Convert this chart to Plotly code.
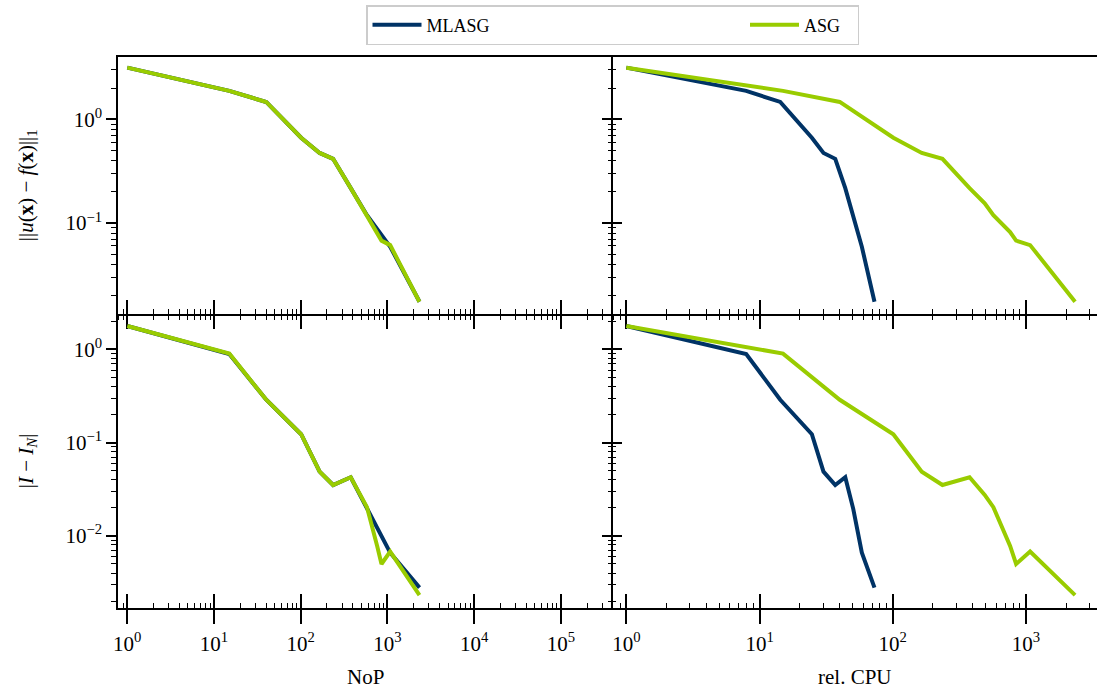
import plotly.graph_objects as go

# ---------------- data ----------------
nop_asg = [1, 15, 40, 101, 165, 236, 377, 480, 580, 760, 853, 1074, 2335]
cpu_asg = [1, 15, 40, 101, 165, 236, 377, 490, 569, 760, 843, 1074, 2335]
err_asg = [3.15, 1.88, 1.47, 0.664, 0.474, 0.416, 0.217, 0.155, 0.119, 0.0818, 0.0676, 0.0612, 0.0174]
int_asg = [1.78, 0.90, 0.288, 0.123, 0.0488, 0.0351, 0.0425, 0.0275, 0.0203, 0.0078, 0.0050, 0.0068, 0.00232]

nop_mlasg = [1, 15, 40, 101, 165, 236, 377, 480, 580, 1074, 2340]
cpu_mlasg = [1, 7.94, 14.3, 24.7, 30.2, 37.0, 44.0, 47.3, 50.5, 58.6, 72.9]
err_mlasg = [3.15, 1.88, 1.47, 0.664, 0.474, 0.416, 0.217, 0.155, 0.119, 0.059, 0.0174]
int_mlasg = [1.78, 0.89, 0.288, 0.123, 0.0488, 0.0351, 0.0425, 0.0275, 0.0195, 0.0066, 0.00279]

series_names = ["MLASG", "ASG"]
series_colors = ["#003366", "#99CC00"]

x_left_ticks = [1, 10, 100, 1000, 10000, 100000]
x_left_labels = ["10<sup>0</sup>", "10<sup>1</sup>", "10<sup>2</sup>", "10<sup>3</sup>", "10<sup>4</sup>", "10<sup>5</sup>"]
x_right_ticks = [1, 10, 100, 1000]
x_right_labels = ["10<sup>0</sup>", "10<sup>1</sup>", "10<sup>2</sup>", "10<sup>3</sup>"]
y_top_ticks = [0.1, 1]
y_top_labels = ["10<sup>\u22121</sup>", "10<sup>0</sup>"]
y_bot_ticks = [0.01, 0.1, 1]
y_bot_labels = ["10<sup>\u22122</sup>", "10<sup>\u22121</sup>", "10<sup>0</sup>"]
minor_vals = [m * 10.0 ** k for k in range(-4, 6) for m in range(2, 10)]

x_titles = ["NoP", "rel. CPU"]
y_titles = ["||<i>u</i>(<b>x</b>) \u2212 <i>f</i>(<b>x</b>)||<sub>1</sub>", "|<i>I</i> \u2212 <i>I<sub>N</sub></i>|"]

# ---------------- layout geometry ----------------
W, H = 1097, 695
FONT = "Liberation Serif, DejaVu Serif, serif"
xl_dom = [118 / W, 613 / W]
xr_dom = [613 / W, 1.0]
yt_dom = [1 - 313.5 / H, 1 - 57 / H]
yb_dom = [1 - 608.3 / H, 1 - 313.5 / H]
xl_rng = [-0.107, 5.60]
xr_rng = [-0.10, 3.533]
yt_rng = [-1.873, 0.601]
yb_rng = [-2.776, 0.384]

fig = go.Figure()

panels = [
    ("x", "y", [nop_mlasg, nop_asg], [err_mlasg, err_asg]),
    ("x2", "y2", [cpu_mlasg, cpu_asg], [err_mlasg, err_asg]),
    ("x3", "y3", [nop_mlasg, nop_asg], [int_mlasg, int_asg]),
    ("x4", "y4", [cpu_mlasg, cpu_asg], [int_mlasg, int_asg]),
]
for pi, (xa, ya, xs, ys) in enumerate(panels):
    for si in range(2):
        fig.add_trace(go.Scatter(
            x=xs[si], y=ys[si], mode="lines", name=series_names[si],
            line=dict(color=series_colors[si], width=4),
            xaxis=xa, yaxis=ya, showlegend=(pi == 0),
            legend="legend" if si == 0 else "legend2",
        ))

# dummy traces so overlay tick axes get their subplots
for xa, ya in [("x5", "y"), ("x6", "y2"), ("x7", "y3"), ("x8", "y4"), ("x2", "y6"), ("x4", "y8")]:
    fig.add_trace(go.Scatter(x=[None], y=[None], xaxis=xa, yaxis=ya, showlegend=False,
                             hoverinfo="skip", mode="lines"))

tickfont = dict(family=FONT, size=21, color="black")


def minor(kind, length):
    return dict(tickmode="array", tickvals=minor_vals, ticks=kind if length else "",
                ticklen=length, tickwidth=1.3, tickcolor="black", showgrid=False)


def xaxis(dom, rng, anchor, ticks, labels, show_labels, minor_len, mirror):
    d = dict(domain=dom, range=rng, type="log", anchor=anchor, automargin=False,
             showline=True, linecolor="black", linewidth=1.5, mirror=mirror,
             showgrid=False, zeroline=False,
             tickmode="array", tickvals=ticks,
             showticklabels=show_labels, ticks="outside", ticklen=14, tickwidth=2,
             tickcolor="black", tickfont=tickfont, minor=minor("outside", minor_len))
    if show_labels:
        d["ticktext"] = labels
        d["ticklabelstandoff"] = 2
    return d


def xoverlay(over, anchor, rng, ticks):
    return dict(overlaying=over, anchor=anchor, side="bottom", range=rng, type="log",
                automargin=False, showline=False, showgrid=False, zeroline=False,
                tickmode="array", tickvals=ticks, showticklabels=False,
                ticks="inside", ticklen=14, tickwidth=2, tickcolor="black",
                minor=minor("inside", 5))


def yaxis(dom, rng, anchor, ticks, labels, show_labels, title, major_len, minor_len):
    d = dict(domain=dom, range=rng, type="log", anchor=anchor, automargin=bool(title),
             showline=True, linecolor="black", linewidth=1.5,
             showgrid=False, zeroline=False,
             tickmode="array", tickvals=ticks,
             showticklabels=show_labels, ticks="outside", ticklen=major_len, tickwidth=2,
             tickcolor="black", tickfont=tickfont, minor=minor("outside", minor_len))
    if show_labels:
        d["ticktext"] = labels
    if title:
        d["title"] = dict(text=title, font=dict(family=FONT, size=21, color="black"), standoff=26)
    return d


def yoverlay(over, anchor, rng, ticks):
    return dict(overlaying=over, anchor=anchor, side="left", range=rng, type="log",
                automargin=False, showline=False, showgrid=False, zeroline=False,
                tickmode="array", tickvals=ticks, showticklabels=False,
                ticks="inside", ticklen=9, tickwidth=2, tickcolor="black",
                minor=minor("inside", 3))


fig.update_layout(
    width=W, height=H,
    margin=dict(l=0, r=0, t=0, b=0, autoexpand=False),
    paper_bgcolor="white", plot_bgcolor="white",
    font=dict(family=FONT, color="black"),
    xaxis=xaxis(xl_dom, xl_rng, "y", x_left_ticks, x_left_labels, False, 5, True),
    xaxis2=xaxis(xr_dom, xr_rng, "y2", x_right_ticks, x_right_labels, False, 5, True),
    xaxis3=xaxis(xl_dom, xl_rng, "y3", x_left_ticks, x_left_labels, True, 0, False),
    xaxis4=xaxis(xr_dom, xr_rng, "y4", x_right_ticks, x_right_labels, True, 0, False),
    xaxis5=xoverlay("x", "y", xl_rng, x_left_ticks),
    xaxis6=xoverlay("x2", "y2", xr_rng, x_right_ticks),
    xaxis7=xoverlay("x3", "y3", xl_rng, x_left_ticks),
    xaxis8=xoverlay("x4", "y4", xr_rng, x_right_ticks),
    yaxis=yaxis(yt_dom, yt_rng, "x", y_top_ticks, y_top_labels, True, y_titles[0], 10, 5),
    yaxis2=yaxis(yt_dom, yt_rng, "x2", y_top_ticks, y_top_labels, False, None, 9, 3),
    yaxis3=yaxis(yb_dom, yb_rng, "x3", y_bot_ticks, y_bot_labels, True, y_titles[1], 10, 5),
    yaxis4=yaxis(yb_dom, yb_rng, "x4", y_bot_ticks, y_bot_labels, False, None, 9, 3),
    yaxis6=yoverlay("y2", "x2", yt_rng, y_top_ticks),
    yaxis8=yoverlay("y4", "x4", yb_rng, y_bot_ticks),
    legend=dict(orientation="h", x=366 / W, xanchor="left", y=1 - 5 / H, yanchor="top",
                entrywidth=426, entrywidthmode="pixels", itemwidth=49,
                bordercolor="#cccccc", borderwidth=1.5, bgcolor="white",
                font=dict(family=FONT, size=18, color="black")),
    legend2=dict(orientation="h", x=745 / W, xanchor="left", y=1 - 6.5 / H, yanchor="top",
                 itemwidth=49, borderwidth=0, bgcolor="rgba(0,0,0,0)",
                 font=dict(family=FONT, size=18, color="black")),
    annotations=[
        dict(text=x_titles[0], xref="paper", yref="paper", x=(118 + 613) / 2 / W, y=1 - 677 / H,
             xanchor="center", yanchor="middle", showarrow=False,
             font=dict(family=FONT, size=21, color="black")),
        dict(text=x_titles[1], xref="paper", yref="paper", x=(613 + 1097) / 2 / W, y=1 - 677 / H,
             xanchor="center", yanchor="middle", showarrow=False,
             font=dict(family=FONT, size=21, color="black")),
    ],
)

fig.write_html("out.html", config={"displayModeBar": False},
               post_script="document.body.style.margin='0px';document.body.style.padding='0px';")
